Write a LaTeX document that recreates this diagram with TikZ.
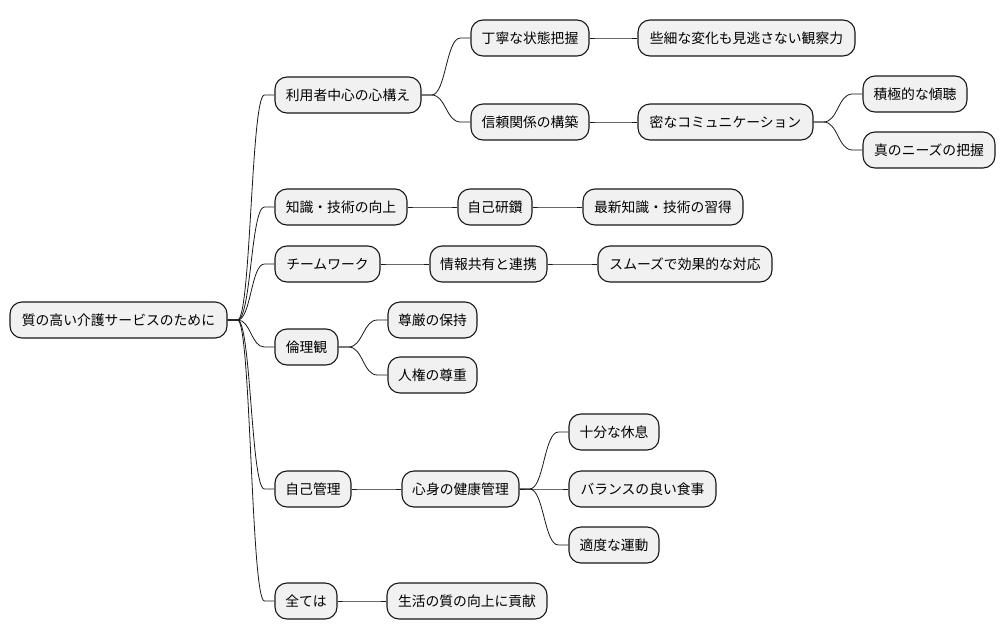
\documentclass[tikz,border=0pt]{standalone}
\usepackage{fontspec}
\setmainfont{Noto Sans CJK JP}
\usetikzlibrary{calc}
\definecolor{nodefill}{HTML}{F1F1F1}
\definecolor{linecol}{HTML}{181818}
\tikzset{
  mm/.style={draw=linecol, fill=nodefill, line width=1.1pt, rounded corners=12pt,
    minimum height=36pt, inner sep=0pt, align=center,
    font=\fontsize{13.8}{16}\selectfont},
  conn/.style={draw=linecol, line width=0.8pt},
}
\newcommand{\lnk}[2]{%
  \draw[conn] let \p1=(#1.east), \p2=(#2.west), \n1={(\x2-\x1-20pt)/2} in
    (\p1) -- (\x1+10pt,\y1) .. controls (\x1+10pt+\n1,\y1) and (\x2-10pt-\n1,\y2) .. (\x2-10pt,\y2) -- (\p2);}
\begin{document}
\begin{tikzpicture}[x=1pt,y=-1pt]
\useasboundingbox (0,0) rectangle (1006,640);
\node[mm, minimum width=217pt] (R) at (118.5,320) {質の高い介護サービスのために};
\node[mm, minimum width=146pt] (A) at (348,95) {利用者中心の心構え};
\node[mm, minimum width=118pt] (A1) at (530,38) {丁寧な状態把握};
\node[mm, minimum width=217pt] (A1a) at (746.5,38) {些細な変化も見逃さない観察力};
\node[mm, minimum width=118pt] (A2) at (530,122) {信頼関係の構築};
\node[mm, minimum width=175pt] (A2a) at (725.5,122) {密なコミュニケーション};
\node[mm, minimum width=104pt] (A2a1) at (915,94) {積極的な傾聴};
\node[mm, minimum width=132pt] (A2a2) at (929,150) {真のニーズの把握};
\node[mm, minimum width=132pt] (B) at (341,207) {知識・技術の向上};
\node[mm, minimum width=74pt] (B1) at (495,207) {自己研鑽};
\node[mm, minimum width=160pt] (B1a) at (663,207) {最新知識・技術の習得};
\node[mm, minimum width=105pt] (C) at (327.5,264) {チームワーク};
\node[mm, minimum width=117pt] (C1) at (488.5,264) {情報共有と連携};
\node[mm, minimum width=174pt] (C1a) at (685,264) {スムーズで効果的な対応};
\node[mm, minimum width=63pt] (D) at (306.5,347) {倫理観};
\node[mm, minimum width=89pt] (D1) at (432.5,320) {尊厳の保持};
\node[mm, minimum width=89pt] (D2) at (432.5,375) {人権の尊重};
\node[mm, minimum width=76pt] (E) at (313,489) {自己管理};
\node[mm, minimum width=117pt] (E1) at (460.5,489) {心身の健康管理};
\node[mm, minimum width=90pt] (E1a) at (614,432) {十分な休息};
\node[mm, minimum width=147pt] (E1b) at (642.5,489) {バランスの良い食事};
\node[mm, minimum width=90pt] (E1c) at (614,545) {適度な運動};
\node[mm, minimum width=62pt] (F) at (306,601) {全ては};
\node[mm, minimum width=160pt] (F1) at (467,601) {生活の質の向上に貢献};
\lnk{R}{A}\lnk{R}{B}\lnk{R}{C}\lnk{R}{D}\lnk{R}{E}\lnk{R}{F}
\lnk{A}{A1}\lnk{A}{A2}\lnk{A1}{A1a}\lnk{A2}{A2a}\lnk{A2a}{A2a1}\lnk{A2a}{A2a2}
\lnk{B}{B1}\lnk{B1}{B1a}
\lnk{C}{C1}\lnk{C1}{C1a}
\lnk{D}{D1}\lnk{D}{D2}
\lnk{E}{E1}\lnk{E1}{E1a}\lnk{E1}{E1b}\lnk{E1}{E1c}
\lnk{F}{F1}
\end{tikzpicture}
\end{document}
